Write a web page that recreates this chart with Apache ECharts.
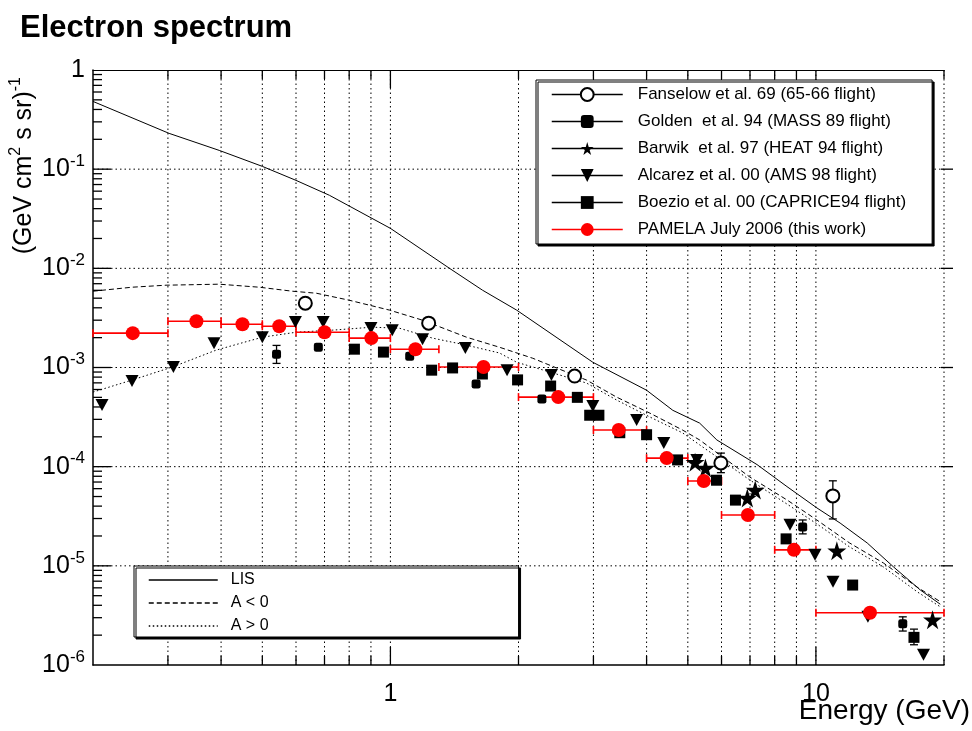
<!DOCTYPE html>
<html>
<head>
<meta charset="utf-8">
<script src="https://cdn.jsdelivr.net/npm/echarts@6/dist/echarts.min.js"></script>
<style>
  html, body { margin: 0; padding: 0; background: #fff; }
  #chart { width: 972px; height: 731px; }
</style>
</head>
<body>
<div id="chart"></div>
<script>
// Energies in GeV, fluxes in (GeV cm^2 s sr)^-1

// Fanselow et al. 69
const fanselowE = [0.631, 1.23, 2.71, 5.98, 10.96];
const fanselowF = [4.45e-3, 2.8e-3, 8.2e-4, 1.09e-4, 5.07e-5];
const fanselowFLow = [null, null, null, 8.7e-5, 2.97e-5];
const fanselowFHigh = [null, null, null, 1.37e-4, 7.2e-5];

// Golden et al. 94
const goldenE = [0.54, 0.677, 1.11, 1.59, 2.27, 9.31, 16.0];
const goldenF = [1.36e-3, 1.6e-3, 1.3e-3, 6.8e-4, 4.8e-4, 2.47e-5, 2.6e-6];
const goldenFLow = [1.1e-3, null, null, null, null, 2.1e-5, 2.2e-6];
const goldenFHigh = [1.67e-3, null, null, null, null, 2.9e-5, 3.06e-6];

// Barwik et al. 97
const barwikE = [5.2, 5.5, 6.9, 7.2, 11.2, 18.8];
const barwikF = [1.11e-4, 9.7e-5, 4.84e-5, 5.82e-5, 1.42e-5, 2.86e-6];

// Alcarez et al. 00
const alcarezE = [0.21, 0.247, 0.309, 0.385, 0.5, 0.598, 0.695, 0.90, 1.01, 1.19, 1.5, 1.88,
                  2.39, 2.99, 3.79, 4.39, 5.25, 8.69, 9.95, 10.97, 13.25, 17.9];
const alcarezF = [4.18e-4, 7.3e-4, 1.01e-3, 1.76e-3, 2.02e-3, 2.87e-3, 2.87e-3, 2.5e-3, 2.38e-3,
                  1.93e-3, 1.57e-3, 9.4e-4, 8.4e-4, 4.1e-4, 2.95e-4, 1.73e-4, 1.17e-4, 2.59e-5,
                  1.29e-5, 6.9e-6, 3.06e-6, 1.27e-6];

// Boezio et al. 00
const boezioE = [0.823, 0.963, 1.25, 1.40, 1.645, 1.99, 2.38, 2.75, 2.94, 3.09, 3.46, 4.0,
                 4.73, 5.84, 6.47, 8.51, 12.2, 17.0];
const boezioF = [1.53e-3, 1.43e-3, 9.4e-4, 9.9e-4, 8.6e-4, 7.5e-4, 6.5e-4, 5.0e-4, 3.3e-4, 3.3e-4,
                 2.2e-4, 2.1e-4, 1.17e-4, 7.3e-5, 4.6e-5, 1.87e-5, 6.4e-6, 1.9e-6];
const boezioFLow = [null, null, null, null, null, null, null, null, null, null, null, null,
                    null, null, null, null, null, 1.6e-6];
const boezioFHigh = [null, null, null, null, null, null, null, null, null, null, null, null,
                     null, null, null, null, null, 2.3e-6];

// PAMELA July 2006
const pamelaE = [0.248, 0.35, 0.449, 0.548, 0.70, 0.902, 1.145, 1.655, 2.48, 3.44, 4.46, 5.45,
                 6.92, 8.88, 13.4];
const pamelaF = [2.22e-3, 2.93e-3, 2.73e-3, 2.61e-3, 2.27e-3, 1.98e-3, 1.53e-3, 1.01e-3, 5.03e-4,
                 2.34e-4, 1.22e-4, 7.18e-5, 3.26e-5, 1.45e-5, 3.36e-6];
const pamelaELow = [0.2, 0.3, 0.4, 0.5, 0.6, 0.8, 1.0, 1.3, 2, 3, 4, 5, 6, 8, 10];
const pamelaEHigh = [0.3, 0.4, 0.5, 0.6, 0.8, 1.0, 1.3, 2, 3, 4, 5, 6, 8, 10, 20];

// Model curves
const lisE = [0.2, 0.302, 0.396, 0.5, 0.6, 0.719, 1.0, 1.377, 1.646, 1.98, 2.99, 4.0, 4.61, 5.33,
              5.85, 7.27, 8.55, 10.05, 11.4, 13.2, 15.2, 17.6, 19.6];
const lisF = [0.482, 0.2295, 0.1546, 0.1067, 0.0771, 0.0545, 0.0253, 0.01, 6.02e-3, 3.79e-3,
              1.13e-3, 5.9e-4, 3.7e-4, 2.75e-4, 1.86e-4, 1.05e-4, 6.3e-5, 3.84e-5, 2.7e-5,
              1.7e-5, 9.8e-6, 5.7e-6, 4.1e-6];

const aNegE = [0.2, 0.247, 0.297, 0.396, 0.492, 0.588, 0.67, 0.80, 0.995, 1.19, 1.51, 1.805, 2.16,
               2.46, 2.89, 3.4, 4.07, 4.86, 5.33, 6.99, 8.55, 10.05, 12.0, 14.4, 17.3, 19.6];
const aNegF = [5.88e-3, 6.45e-3, 6.76e-3, 6.92e-3, 6.45e-3, 5.88e-3, 5.61e-3, 4.77e-3, 3.79e-3,
               3.0e-3, 2.02e-3, 1.6e-3, 1.24e-3, 9.87e-4, 7.47e-4, 5.03e-4, 3.47e-4, 2.34e-4,
               1.86e-4, 7.87e-5, 4.62e-5, 2.9e-5, 1.7e-5, 1.07e-5, 6.1e-6, 4.35e-6];

const aPosE = [0.2, 0.247, 0.307, 0.39, 0.5, 0.601, 0.73, 0.907, 1.05, 1.255, 1.51, 1.805, 1.98,
               2.37, 2.89, 3.4, 4.07, 4.86, 5.33, 6.99, 8.55, 10.05, 12.0, 14.4, 17.3, 19.6];
const aPosF = [5.65e-4, 7.47e-4, 1.01e-3, 1.5e-3, 2.02e-3, 2.27e-3, 2.38e-3, 2.55e-3, 2.49e-3,
               1.98e-3, 1.68e-3, 1.4e-3, 1.13e-3, 9.0e-4, 6.97e-4, 4.7e-4, 3.17e-4, 2.19e-4,
               1.66e-4, 7.35e-5, 4.2e-5, 2.65e-5, 1.55e-5, 9.77e-6, 5.47e-6, 3.86e-6];

// Axis ranges and tick positions
const energyRange = [0.2, 20];
const fluxRange = [1e-6, 1];
const xTickValues = [0.3, 0.4, 0.5, 0.6, 0.7, 0.8, 0.9, 1, 2, 3, 4, 5, 6, 7, 8, 9, 10, 20];
const yTickMantissas = [1, 2, 3, 4, 5, 6, 7, 8, 9];
const yTickDecades = [-6, -5, -4, -3, -2, -1];

// Legend names
const names = {
  fanselow: 'Fanselow et al. 69 (65-66 flight)',
  golden: 'Golden  et al. 94 (MASS 89 flight)',
  barwik: 'Barwik  et al. 97 (HEAT 94 flight)',
  alcarez: 'Alcarez et al. 00 (AMS 98 flight)',
  boezio: 'Boezio et al. 00 (CAPRICE94 flight)',
  pamela: 'PAMELA July 2006 (this work)',
  lis: 'LIS',
  aNeg: 'A < 0',
  aPos: 'A > 0'
};

const FONT = '"Liberation Sans", Arial, Helvetica, sans-serif';
const STAR = 'path://M50,0L61,35L98,35L68,57L79,91L50,70L21,91L32,57L2,35L39,35Z';
const DOWN_TRIANGLE = 'path://M0,0L12,0L6,11Z';

const yTickValues = [];
yTickDecades.forEach(function (d) {
  yTickMantissas.forEach(function (m) {
    const v = Number((m * Math.pow(10, d)).toPrecision(3));
    if (v > fluxRange[0]) yTickValues.push(v);
  });
});

function isDecade(v) {
  const l = Math.log10(v);
  return Math.abs(l - Math.round(l)) < 1e-6;
}

function pairs(xs, ys) {
  return xs.map(function (x, i) { return [x, ys[i]]; });
}

function errRows(xs, ys, lows, highs) {
  const out = [];
  xs.forEach(function (x, i) {
    if (lows[i] != null && highs[i] != null) out.push([x, ys[i], lows[i], highs[i]]);
  });
  return out;
}

// Frame ticks, top and bottom, plus dotted vertical grid
function renderXTick(params, api) {
  const cs = params.coordSys;
  const v = api.value(0);
  const x = api.coord([v, api.value(1)])[0];
  const top = cs.y, bottom = cs.y + cs.height;
  const len = isDecade(v) ? 18 : 9;
  return {
    type: 'group',
    children: [
      { type: 'line', shape: { x1: x, y1: top, x2: x, y2: bottom },
        style: { stroke: '#000', lineWidth: 1, lineDash: [1.5, 3] } },
      { type: 'line', shape: { x1: x, y1: bottom, x2: x, y2: bottom - len },
        style: { stroke: '#000', lineWidth: 1.3 } },
      { type: 'line', shape: { x1: x, y1: top, x2: x, y2: top + len },
        style: { stroke: '#000', lineWidth: 1.3 } }
    ]
  };
}

// Frame ticks, left (all) and right (decades), plus dotted horizontal grid at decades
function renderYTick(params, api) {
  const cs = params.coordSys;
  const v = api.value(1);
  const y = api.coord([api.value(0), v])[1];
  const left = cs.x, right = cs.x + cs.width;
  const major = isDecade(v);
  const len = major ? 18 : 9;
  const children = [
    { type: 'line', shape: { x1: left, y1: y, x2: left + len, y2: y },
      style: { stroke: '#000', lineWidth: 1.3 } }
  ];
  if (major) {
    children.unshift({ type: 'line', shape: { x1: left, y1: y, x2: right, y2: y },
      style: { stroke: '#000', lineWidth: 1, lineDash: [1.5, 3] } });
    children.push({ type: 'line', shape: { x1: right - 3, y1: y, x2: right + 9, y2: y },
      style: { stroke: '#000', lineWidth: 1.3 } });
  }
  return { type: 'group', children: children };
}

// Horizontal energy-bin bars with end caps
function renderXErr(params, api) {
  const c = api.visual('color');
  const y = api.coord([api.value(0), api.value(1)])[1];
  const x1 = api.coord([api.value(2), api.value(1)])[0];
  const x2 = api.coord([api.value(3), api.value(1)])[0];
  const h = 4;
  const st = { stroke: c, lineWidth: 1.6 };
  return {
    type: 'group',
    children: [
      { type: 'line', shape: { x1: x1, y1: y, x2: x2, y2: y }, style: st },
      { type: 'line', shape: { x1: x1, y1: y - h, x2: x1, y2: y + h }, style: st },
      { type: 'line', shape: { x1: x2, y1: y - h, x2: x2, y2: y + h }, style: st }
    ]
  };
}

// Vertical flux error bars with end caps
function renderYErr(params, api) {
  const c = api.visual('color');
  const x = api.coord([api.value(0), api.value(1)])[0];
  const y1 = api.coord([api.value(0), api.value(2)])[1];
  const y2 = api.coord([api.value(0), api.value(3)])[1];
  const w = 4;
  const st = { stroke: c, lineWidth: 1.3 };
  return {
    type: 'group',
    children: [
      { type: 'line', shape: { x1: x, y1: y1, x2: x, y2: y2 }, style: st },
      { type: 'line', shape: { x1: x - w, y1: y1, x2: x + w, y2: y1 }, style: st },
      { type: 'line', shape: { x1: x - w, y1: y2, x2: x + w, y2: y2 }, style: st }
    ]
  };
}

function curveSeries(name, xs, ys, dash) {
  return {
    name: name, type: 'line', data: pairs(xs, ys), symbol: 'none',
    lineStyle: { color: '#000', width: 1, type: dash },
    itemStyle: { color: '#000' },
    silent: true, z: 2
  };
}

function markerSeries(name, xs, ys, symbol, size, color, extra) {
  return Object.assign({
    name: name, type: 'line', data: pairs(xs, ys),
    symbol: symbol, symbolSize: size, showSymbol: true, showAllSymbol: true,
    lineStyle: { color: color, opacity: 0, width: 1 },
    itemStyle: { color: color, opacity: 1 },
    emphasis: { disabled: true },
    silent: true, z: 4
  }, extra || {});
}

function errSeries(rows, render, color) {
  return {
    type: 'custom', data: rows, renderItem: render,
    encode: { x: 0, y: 1 }, itemStyle: { color: color },
    silent: true, z: 3
  };
}

function legendItem(name, color, dash, hideSymbol) {
  return {
    name: name,
    lineStyle: { color: color, width: 1.5, opacity: 1, type: dash || 'solid' },
    itemStyle: { opacity: hideSymbol ? 0 : 1 }
  };
}

function yLabel(v) {
  const e = Math.round(Math.log10(v));
  if (e === 0) return '{b|1}';
  return '{b|10}{s|' + e + '}';
}

const chart = echarts.init(document.getElementById('chart'), null, { renderer: 'canvas' });

const logAxisBase = { type: 'log', logBase: 10, min: energyRange[0], max: energyRange[1] };

const option = {
  animation: false,
  backgroundColor: '#fff',
  textStyle: { fontFamily: FONT, color: '#000' },
  title: {
    text: 'Electron spectrum', left: 15, top: 8,
    textStyle: { fontFamily: FONT, fontSize: 31, fontWeight: 'bold', color: '#000' }
  },
  grid: {
    left: 93, top: 70, right: 28, bottom: 66,
    show: false, containLabel: false, outerBoundsMode: 'none'
  },
  xAxis: [
    Object.assign({}, logAxisBase, {
      position: 'bottom',
      axisLine: { show: true, lineStyle: { color: '#000', width: 1.5 } },
      axisTick: { show: false }, splitLine: { show: false }, minorTick: { show: false },
      axisLabel: {
        show: true, margin: 17, fontSize: 25, fontFamily: FONT, color: '#000',
        showMinLabel: false, showMaxLabel: false,
        formatter: function (v) { return isDecade(v) ? String(Math.round(v)) : ''; }
      }
    }),
    Object.assign({}, logAxisBase, {
      position: 'top',
      axisLine: { show: true, lineStyle: { color: '#000', width: 1.2 } },
      axisTick: { show: false }, splitLine: { show: false }, axisLabel: { show: false }
    })
  ],
  yAxis: {
    type: 'log', logBase: 10, min: fluxRange[0], max: fluxRange[1], splitNumber: 6,
    axisLine: { show: true, lineStyle: { color: '#000', width: 1.5 } },
    axisTick: { show: false }, splitLine: { show: false }, minorTick: { show: false },
    axisLabel: {
      show: true, margin: 8, color: '#000',
      formatter: yLabel,
      rich: {
        b: { fontSize: 25, fontFamily: FONT, color: '#000' },
        s: { fontSize: 17, fontFamily: FONT, color: '#000', padding: [0, 0, 16, 0] }
      }
    }
  },
  legend: [
    {
      orient: 'vertical', left: 536, top: 80,
      padding: [6, 26, 6, 15], itemGap: 10, itemWidth: 71, itemHeight: 16,
      backgroundColor: '#fff', borderColor: '#000', borderWidth: 1,
      shadowColor: '#000', shadowBlur: 0, shadowOffsetX: 2, shadowOffsetY: 2,
      selectedMode: false,
      textStyle: { fontFamily: FONT, fontSize: 17, color: '#000', lineHeight: 16, padding: [0, 0, 0, 10] },
      data: [
        legendItem(names.fanselow, '#000'),
        legendItem(names.golden, '#000'),
        legendItem(names.barwik, '#000'),
        legendItem(names.alcarez, '#000'),
        legendItem(names.boezio, '#000'),
        legendItem(names.pamela, '#f00')
      ]
    },
    {
      orient: 'vertical', left: 134, top: 566,
      padding: [6, 250, 3, 14], itemGap: 7, itemWidth: 69, itemHeight: 14,
      backgroundColor: '#fff', borderColor: '#000', borderWidth: 1,
      shadowColor: '#000', shadowBlur: 0, shadowOffsetX: 2, shadowOffsetY: 2,
      selectedMode: false,
      textStyle: { fontFamily: FONT, fontSize: 16, color: '#000', lineHeight: 14, padding: [0, 0, 0, 8] },
      data: [
        legendItem(names.lis, '#000', 'solid', true),
        legendItem(names.aNeg, '#000', [5, 3], true),
        legendItem(names.aPos, '#000', [1.5, 2.5], true)
      ]
    }
  ],
  graphic: [
    {
      type: 'text', x: 24, y: 77, rotation: Math.PI / 2,
      style: {
        text: '{m|(GeV cm}{u|2}{m| s sr)}{u|-1}',
        align: 'right', verticalAlign: 'middle',
        rich: {
          m: { fontSize: 25, fontFamily: FONT, fill: '#000' },
          u: { fontSize: 16, fontFamily: FONT, fill: '#000', padding: [0, 0, 16, 0] }
        }
      }
    },
    {
      type: 'text', x: 970, y: 711,
      style: {
        text: 'Energy (GeV)', align: 'right', verticalAlign: 'middle',
        fontSize: 28, fontFamily: FONT, fill: '#000'
      }
    }
  ],
  series: [
    { type: 'custom', data: xTickValues.map(function (v) { return [v, 1e-3]; }),
      renderItem: renderXTick, encode: { x: 0, y: 1 }, silent: true, z: 1 },
    { type: 'custom', data: yTickValues.map(function (v) { return [1, v]; }),
      renderItem: renderYTick, encode: { x: 0, y: 1 }, silent: true, z: 1, clip: false },

    curveSeries(names.lis, lisE, lisF, 'solid'),
    curveSeries(names.aNeg, aNegE, aNegF, [5, 3]),
    curveSeries(names.aPos, aPosE, aPosF, [1.5, 2.5]),

    errSeries(errRows(fanselowE, fanselowF, fanselowFLow, fanselowFHigh), renderYErr, '#000'),
    errSeries(errRows(goldenE, goldenF, goldenFLow, goldenFHigh), renderYErr, '#000'),
    errSeries(errRows(boezioE, boezioF, boezioFLow, boezioFHigh), renderYErr, '#000'),

    markerSeries(names.fanselow, fanselowE, fanselowF, 'emptyCircle', 13, '#000',
      { itemStyle: { color: '#000', borderColor: '#000', borderWidth: 1.2, opacity: 1 } }),
    markerSeries(names.golden, goldenE, goldenF, 'roundRect', 9, '#000'),
    markerSeries(names.barwik, barwikE, barwikF, STAR, 19, '#000'),
    markerSeries(names.alcarez, alcarezE, alcarezF, DOWN_TRIANGLE, [13, 12], '#000'),
    markerSeries(names.boezio, boezioE, boezioF, 'rect', 11, '#000'),

    errSeries(pamelaE.map(function (e, i) { return [e, pamelaF[i], pamelaELow[i], pamelaEHigh[i]]; }),
      renderXErr, '#f00'),
    markerSeries(names.pamela, pamelaE, pamelaF, 'circle', 14, '#f00', { z: 5 })
  ]
};

chart.setOption(option);
</script>
</body>
</html>
